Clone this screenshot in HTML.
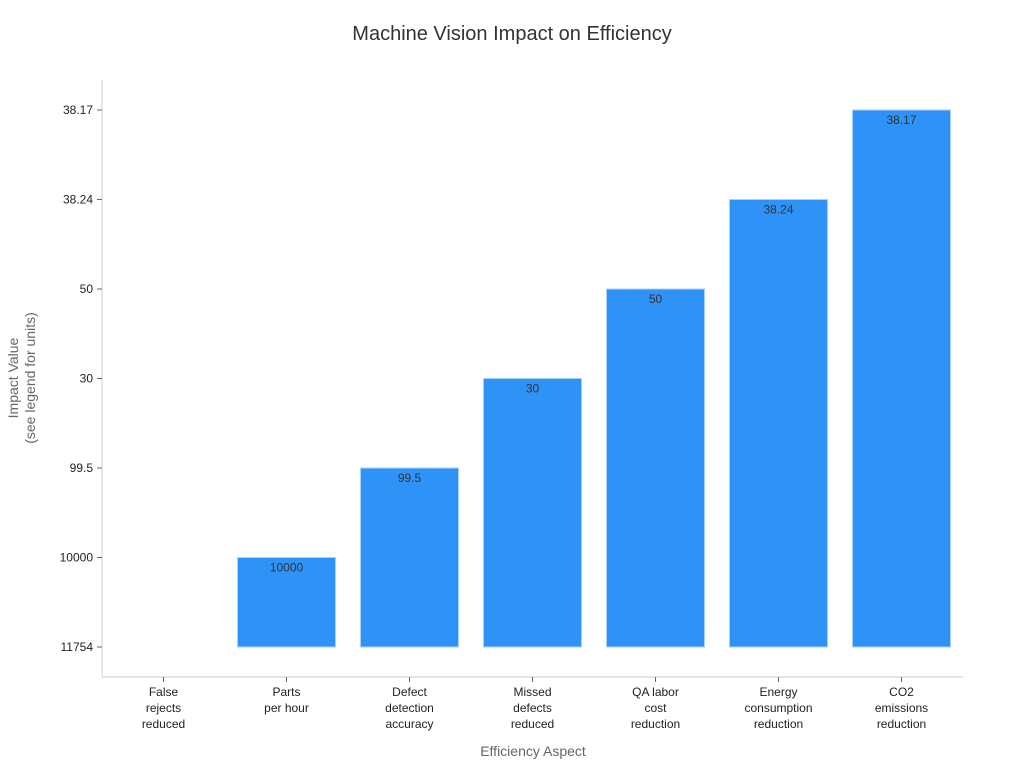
<!DOCTYPE html>
<html><head><meta charset="utf-8"><style>
body{margin:0;background:#fff;font-family:"Liberation Sans","DejaVu Sans",sans-serif}
</style></head><body>
<svg id="chart" width="1024" height="768" xmlns="http://www.w3.org/2000/svg">
<text x="512" y="40" text-anchor="middle" font-size="20" fill="#333">Machine Vision Impact on Efficiency</text>
<line x1="102" y1="80" x2="102" y2="677" stroke="#ccc"/>
<line x1="102" y1="677" x2="963" y2="677" stroke="#ccc"/>
<g id="yticks"></g><g id="bars"></g><g id="xticks"></g>
<text x="533" y="756" text-anchor="middle" font-size="14" fill="#666">Efficiency Aspect</text>
<text transform="translate(18,378) rotate(-90)" text-anchor="middle" font-size="14" fill="#666"><tspan x="0" dy="0">Impact Value</tspan><tspan x="0" dy="17">(see legend for units)</tspan></text>
</svg>
<script>
const categories=[["False","rejects","reduced"],["Parts","per hour"],["Defect","detection","accuracy"],["Missed","defects","reduced"],["QA labor","cost","reduction"],["Energy","consumption","reduction"],["CO2","emissions","reduction"]];
const yCategories=["11754","10000","99.5","30","50","38.24","38.17"];
const values=["11754","10000","99.5","30","50","38.24","38.17"];
const NS="http://www.w3.org/2000/svg";
function yPos(v){return 647-yCategories.indexOf(v)*89.5;}
const band=(963-102)/categories.length;
function xPos(i){return 102+band*(i+0.5);}
function mk(t,a,p){const e=document.createElementNS(NS,t);for(const k in a)e.setAttribute(k,a[k]);p.appendChild(e);return e;}
const yt=document.getElementById('yticks');
yCategories.forEach(c=>{const y=yPos(c);
const l=mk('line',{x1:97,x2:102,y1:y,y2:y,stroke:'#666'},yt);


const t=mk('text',{x:93,y:y+4,'text-anchor':'end','font-size':12,fill:'#222'},yt);t.textContent=c;

});
const bg=document.getElementById('bars'),xt=document.getElementById('xticks');
categories.forEach((c,i)=>{const cx=xPos(i),top=yPos(values[i]),base=yPos(yCategories[0]);
if(base-top>0){const r=mk('rect',{x:cx-49,y:top,width:98,height:base-top,fill:'#2f92f7',stroke:'#a8d0fb','stroke-width':1},bg);


const t=mk('text',{x:cx,y:top+14,'text-anchor':'middle','font-size':12,fill:'#333'},bg);t.textContent=values[i];

}
const tk=mk('line',{x1:cx,x2:cx,y1:677,y2:682,stroke:'#666'},xt);


const t=mk('text',{x:cx,y:696,'text-anchor':'middle','font-size':12,fill:'#222'},xt);


c.forEach((line,j)=>{const s=mk('tspan',{x:cx,dy:j?16:0},t);s.textContent=line;});});
</script>
</body></html>
